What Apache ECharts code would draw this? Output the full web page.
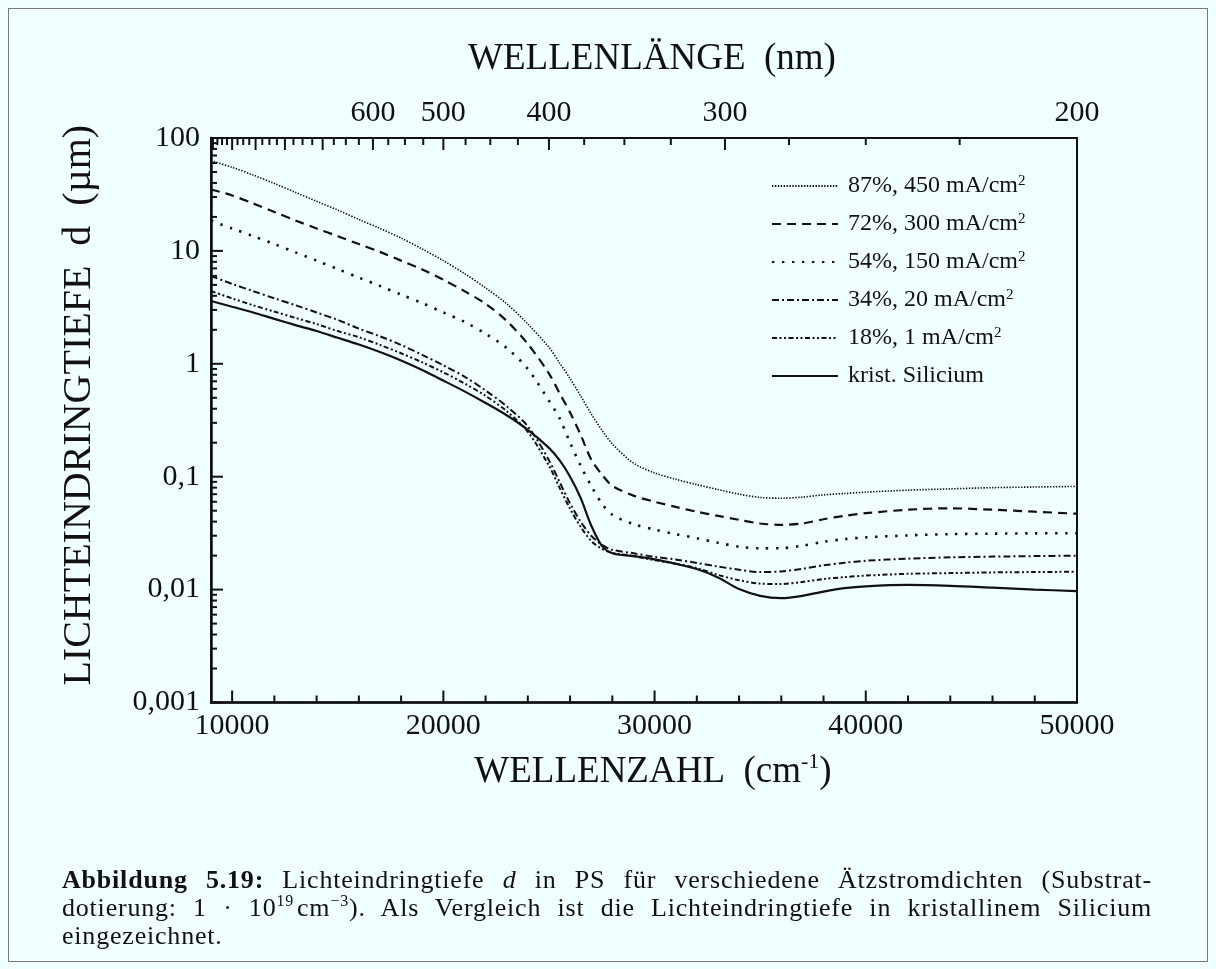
<!DOCTYPE html>
<html>
<head>
<meta charset="utf-8">
<title>Lichteindringtiefe</title>
<script src="https://cdn.jsdelivr.net/npm/echarts@6/dist/echarts.min.js"></script>
<style>
  html, body { margin: 0; padding: 0; background: #f0ffff; }
  #chart { position: absolute; left: 0; top: 0; width: 1216px; height: 969px; }
  #frame { position: absolute; left: 8px; top: 8px; width: 1200px; height: 954px;
           border: 1px solid #777; box-sizing: border-box; pointer-events: none; }
  #caption { position: absolute; left: 62px; top: 866px; width: 1090px;
             font-family: 'Liberation Serif', serif; font-size: 26px; line-height: 28px;
             letter-spacing: 0.8px; color: #111; }
  #caption .j { text-align: justify; text-align-last: justify; }
  #caption sup { font-size: 16px; line-height: 0; }
</style>
</head>
<body>
<div id="chart"></div>
<div id="frame"></div>
<div id="caption">
  <div class="j"><b>Abbildung 5.19:</b> Lichteindringtiefe <i>d</i> in PS für verschiedene Ätzstromdichten (Substrat-</div>
  <div class="j">dotierung: 1 · 10<sup>19</sup>&#8202;cm<sup>−3</sup>). Als Vergleich ist die Lichteindringtiefe in kristallinem Silicium</div>
  <div>eingezeichnet.</div>
</div>
<script>
// Wavenumber grid (cm^-1) shared by all curves
const wavenumbers = [
  9000, 10000, 11000, 12000, 13000, 14000, 15000, 16000, 17000, 18000,
  19000, 20000, 21000, 22000, 23000, 24000, 25000, 25500, 26000, 26500,
  27000, 27500, 28000, 29000, 30000, 31000, 32000, 33000, 34000, 35000,
  36000, 37000, 38000, 39000, 40000, 42000, 44000, 46000, 48000, 50000
];

// Penetration depth d (µm) for each porosity / etch current density
const depth87 = [
  63, 55, 47, 39.5, 33, 27.5, 23, 19, 15.8, 13,
  10.4, 8.2, 6.3, 4.7, 3.4, 2.25, 1.4, 1.02, 0.74, 0.52,
  0.36, 0.26, 0.195, 0.132, 0.108, 0.095, 0.085, 0.077, 0.07, 0.0655,
  0.0645, 0.066, 0.069, 0.071, 0.073, 0.076, 0.078, 0.08, 0.081, 0.082
];
const depth72 = [
  35, 31, 26.3, 22.1, 18.6, 15.8, 13.5, 11.5, 9.8, 8.2,
  6.85, 5.55, 4.4, 3.4, 2.4, 1.5, 0.82, 0.55, 0.37, 0.235,
  0.142, 0.105, 0.083, 0.068, 0.06, 0.054, 0.049, 0.045, 0.0415, 0.0385,
  0.0375, 0.0385, 0.042, 0.045, 0.0475, 0.051, 0.0525, 0.051, 0.049, 0.047
];
const depth54 = [
  18.5, 15.8, 13.5, 11.5, 9.7, 8.2, 6.9, 5.8, 4.9, 4.1,
  3.45, 2.85, 2.35, 1.85, 1.38, 0.9, 0.47, 0.33, 0.2, 0.125,
  0.083, 0.058, 0.046, 0.038, 0.034, 0.031, 0.0285, 0.026, 0.024, 0.0232,
  0.0233, 0.0245, 0.0265, 0.028, 0.029, 0.0302, 0.031, 0.0313, 0.0315, 0.0316
];
const depth34 = [
  6.0, 5.1, 4.4, 3.8, 3.3, 2.85, 2.45, 2.05, 1.75, 1.47,
  1.2, 0.97, 0.77, 0.58, 0.42, 0.28, 0.14, 0.09, 0.058, 0.04,
  0.03, 0.025, 0.0225, 0.021, 0.0195, 0.0185, 0.0172, 0.016, 0.015, 0.0143,
  0.0145, 0.0153, 0.0164, 0.0173, 0.018, 0.0188, 0.0193, 0.0196, 0.0198, 0.02
];
const depth18 = [
  4.4, 3.8, 3.3, 2.9, 2.55, 2.25, 1.95, 1.72, 1.47, 1.24,
  1.03, 0.84, 0.67, 0.52, 0.38, 0.25, 0.125, 0.08, 0.052, 0.036,
  0.027, 0.023, 0.0212, 0.0198, 0.0182, 0.017, 0.0155, 0.0135, 0.0121, 0.0113,
  0.0112, 0.0117, 0.0124, 0.0129, 0.0133, 0.0138, 0.014, 0.0142, 0.0143, 0.0144
];
const depthSi = [
  3.6, 3.2, 2.85, 2.5, 2.2, 1.95, 1.7, 1.48, 1.27, 1.07,
  0.88, 0.71, 0.57, 0.45, 0.35, 0.26, 0.18, 0.14, 0.1, 0.065,
  0.037, 0.0245, 0.021, 0.0198, 0.0185, 0.0169, 0.0152, 0.0128, 0.0101, 0.0088,
  0.0084, 0.0088, 0.0096, 0.0103, 0.0107, 0.011, 0.0108, 0.0104, 0.01, 0.0097
];

const seriesNames = [
  '87%, 450 mA/cm²', '72%, 300 mA/cm²', '54%, 150 mA/cm²',
  '34%, 20 mA/cm²', '18%, 1 mA/cm²', 'krist. Silicium'
];

// Axis ticks
const xMajorTicks = [10000, 20000, 30000, 40000, 50000];
const xMinorTicks = [12000, 14000, 16000, 18000, 22000, 24000, 26000, 28000,
                     32000, 34000, 36000, 38000, 42000, 44000, 46000, 48000];
const yDecades = [0.001, 0.01, 0.1, 1, 10, 100];
const yDecadeLabels = ['0,001', '0,01', '0,1', '1', '10', '100'];
const yMinorSteps = [2, 3, 4, 5, 6, 7, 8, 9];
// Wavelength scale along the top (nm)
const wavelengthTicks = [1100, 1075, 1050, 1025, 1000, 975, 950, 925, 900, 875, 850, 825,
  800, 775, 750, 725, 700, 675, 650, 625, 600, 575, 550, 525, 500, 475, 450, 425,
  400, 375, 350, 325, 300, 275, 250, 225, 200];
const wavelengthLabels = [600, 500, 400, 300, 200];

const X_MIN = 9000, X_MAX = 50000, Y_MIN = 0.001, Y_MAX = 100;
const INK = '#111';
const SERIF = "'Liberation Serif', 'DejaVu Serif', serif";

const lineStyles = [
  { width: 1.6, type: [1.4, 1.5] },
  { width: 2.2, type: [9, 6] },
  { width: 2.6, type: [2.4, 7.6] },
  { width: 2.0, type: [7, 3, 2, 3] },
  { width: 2.0, type: [5, 2.5, 2, 2.5, 2, 2.5] },
  { width: 2.2, type: 'solid' }
];
const curves = [depth87, depth72, depth54, depth34, depth18, depthSi];

const lineSeries = curves.map((vals, i) => ({
  name: seriesNames[i],
  type: 'line',
  data: wavenumbers.map((w, k) => [w, vals[k]]),
  symbol: 'none',
  smooth: 0.3,
  z: 3,
  lineStyle: Object.assign({ color: INK, cap: 'butt' }, lineStyles[i]),
  itemStyle: { color: INK }
}));

function tickLine(x1, y1, x2, y2) {
  return { type: 'line', shape: { x1, y1, x2, y2 }, style: { stroke: INK, lineWidth: 2 } };
}

// bottom axis ticks point up into the plot
const xTickData = xMajorTicks.map(v => [v, Y_MIN, 1]).concat(xMinorTicks.map(v => [v, Y_MIN, 0]));
const xTickSeries = {
  type: 'custom', coordinateSystem: 'cartesian2d', silent: true, clip: false, z: 5,
  data: xTickData,
  renderItem: (params, api) => {
    const p = api.coord([api.value(0), api.value(1)]);
    const len = api.value(2) ? 12 : 7;
    return tickLine(p[0], p[1], p[0], p[1] - len);
  }
};

// left log ticks point right into the plot
const yTickData = [];
yDecades.forEach((d, i) => {
  yTickData.push([X_MIN, d, 1]);
  if (i < yDecades.length - 1) yMinorSteps.forEach(m => yTickData.push([X_MIN, d * m, 0]));
});
const yTickSeries = {
  type: 'custom', coordinateSystem: 'cartesian2d', silent: true, clip: false, z: 5,
  data: yTickData,
  renderItem: (params, api) => {
    const p = api.coord([api.value(0), api.value(1)]);
    const len = api.value(2) ? 12 : 6;
    return tickLine(p[0], p[1], p[0] + len, p[1]);
  }
};

// top wavelength ticks: position = 1e7 / lambda (cm^-1)
const topTickData = wavelengthTicks.map(l => [1e7 / l, Y_MAX, l % 100 === 0 ? 1 : 0,
  wavelengthLabels.indexOf(l) >= 0 ? l : 0]);
const topTickSeries = {
  type: 'custom', coordinateSystem: 'cartesian2d', silent: true, clip: false, z: 5,
  data: topTickData,
  renderItem: (params, api) => {
    const p = api.coord([api.value(0), api.value(1)]);
    const len = api.value(2) ? 12 : 7;
    const children = [tickLine(p[0], p[1], p[0], p[1] + len)];
    const lab = api.value(3);
    if (lab) {
      children.push({
        type: 'text', x: p[0], y: p[1] - 10,
        style: { text: String(lab), fill: INK, font: '30px ' + SERIF, align: 'center', verticalAlign: 'bottom' }
      });
    }
    return { type: 'group', children };
  }
};

const chart = echarts.init(document.getElementById('chart'), null, { renderer: 'canvas' });
chart.setOption({
  animation: false,
  backgroundColor: '#f0ffff',
  textStyle: { fontFamily: SERIF, color: INK },
  grid: { left: 211, right: 139, top: 138, bottom: 266.5, show: true,
          borderColor: INK, borderWidth: 2, backgroundColor: 'transparent' },
  legend: {
    data: seriesNames,
    orient: 'vertical',
    left: 771, top: 174, padding: 0,
    itemWidth: 66, itemHeight: 24, itemGap: 14,
    itemStyle: { opacity: 0 },
    selectedMode: false,
    formatter: name => name.indexOf('²') >= 0
      ? '{t|' + name.replace('²', '') + '}{s|2}'
      : '{t|' + name + '}',
    textStyle: {
      fontFamily: SERIF, fontSize: 24, color: INK, padding: [0, 0, 0, 5],
      rich: {
        t: { fontFamily: SERIF, fontSize: 24, color: INK, lineHeight: 24 },
        s: { fontFamily: SERIF, fontSize: 15, color: INK, lineHeight: 12, verticalAlign: 'top' }
      }
    }
  },
  xAxis: [{
    type: 'value', min: X_MIN, max: X_MAX, interval: 1000, position: 'bottom',
    axisLine: { show: true, onZero: false, lineStyle: { color: INK, width: 2.5 } },
    axisTick: { show: false }, splitLine: { show: false },
    axisLabel: {
      color: INK, fontFamily: SERIF, fontSize: 30, margin: 9, showMinLabel: true, showMaxLabel: true,
      formatter: v => (xMajorTicks.indexOf(v) >= 0 ? String(v) : '')
    },
    name: '{t|WELLENZAHL  (cm}{s|-1}{t|)}',
    nameLocation: 'middle', nameGap: 49,
    nameTextStyle: {
      padding: [0, 0, 0, 18],
      rich: {
        t: { fontFamily: SERIF, fontSize: 37, color: INK, lineHeight: 42 },
        s: { fontFamily: SERIF, fontSize: 22, color: INK, lineHeight: 20, verticalAlign: 'top' }
      }
    }
  }, {
    type: 'value', min: X_MIN, max: X_MAX, position: 'top',
    axisLine: { show: true, lineStyle: { color: INK, width: 2 } },
    axisTick: { show: false }, axisLabel: { show: false }, splitLine: { show: false },
    name: 'WELLENLÄNGE  (nm)', nameLocation: 'middle', nameGap: 60,
    nameTextStyle: { fontFamily: SERIF, fontSize: 37, color: INK, padding: [0, 0, 0, 16] }
  }],
  yAxis: [{
    type: 'log', logBase: 10, min: Y_MIN, max: Y_MAX, splitNumber: 5,
    axisLine: { show: true, onZero: false, lineStyle: { color: INK, width: 2.5 } },
    axisTick: { show: false }, splitLine: { show: false }, minorTick: { show: false },
    axisLabel: {
      color: INK, fontFamily: SERIF, fontSize: 30, margin: 11,
      formatter: v => yDecadeLabels[Math.round(Math.log10(v)) + 3]
    },
    name: 'LICHTEINDRINGTIEFE  d  (µm)',
    nameLocation: 'middle', nameGap: 112, nameRotate: 90,
    nameTextStyle: { fontFamily: SERIF, fontSize: 40, color: INK, padding: [0, 0, 0, 30] }
  }],
  series: lineSeries.concat([xTickSeries, yTickSeries, topTickSeries])
});
</script>
</body>
</html>
